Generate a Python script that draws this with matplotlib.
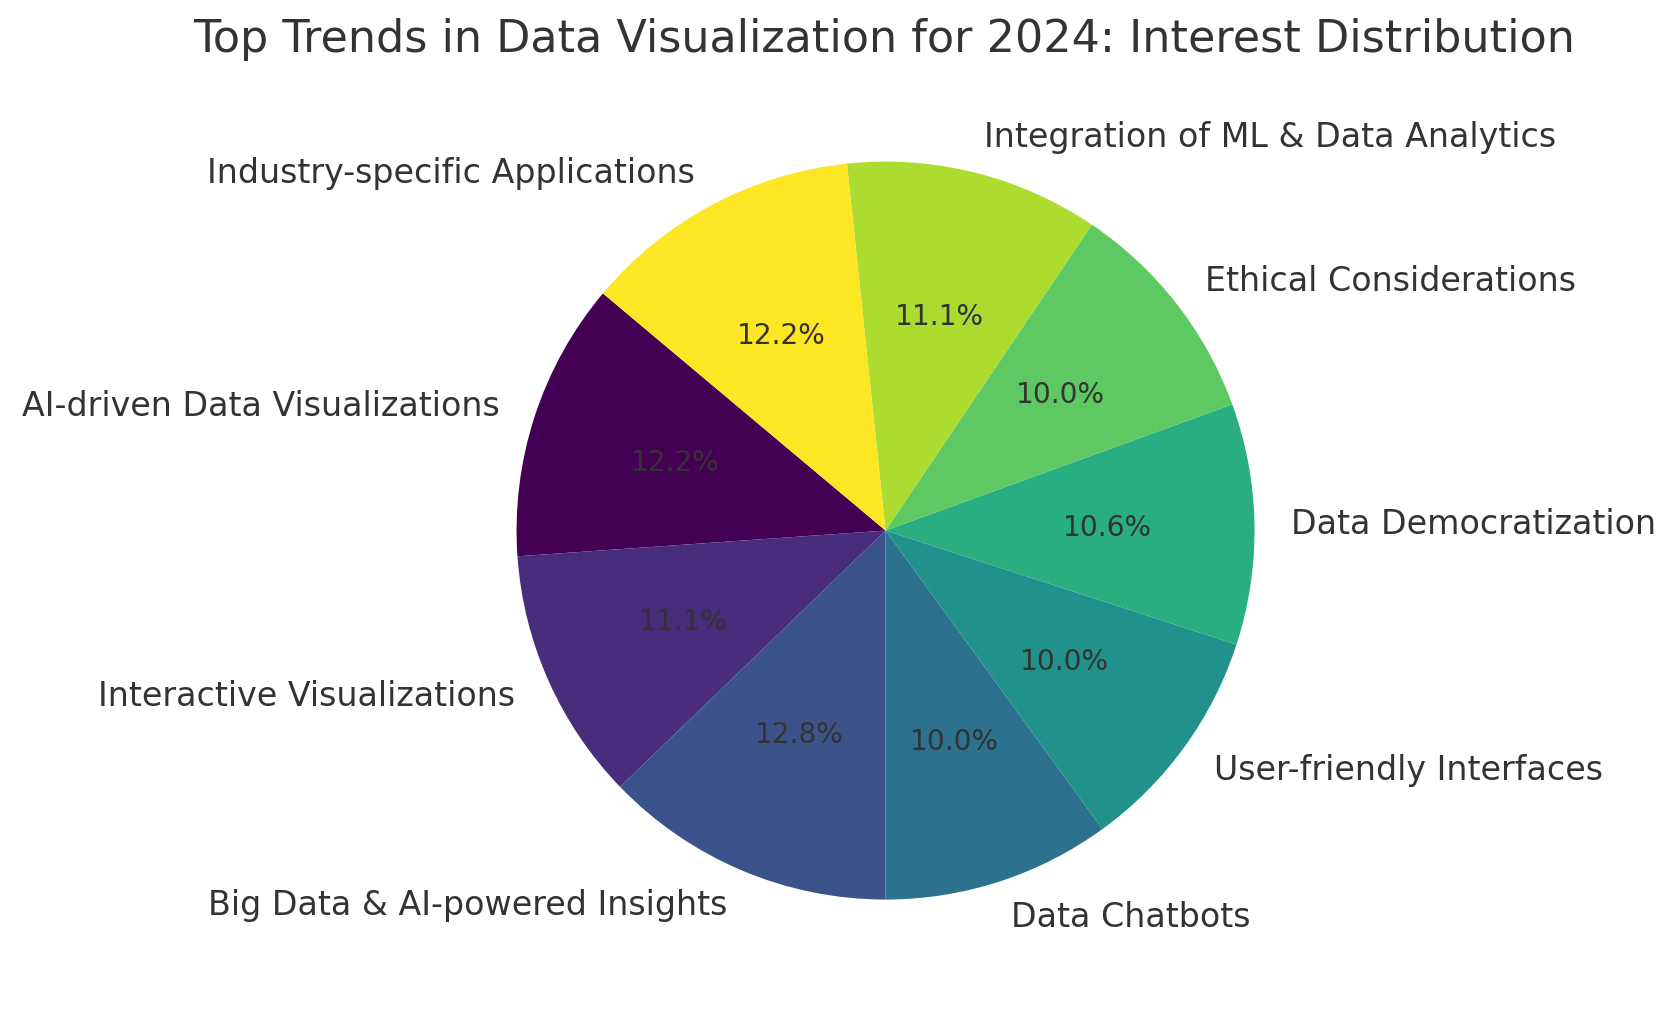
import numpy as np
import matplotlib.pyplot as plt

labels = ['AI-driven Data Visualizations', 'Interactive Visualizations',
          'Big Data & AI-powered Insights', 'Data Chatbots',
          'User-friendly Interfaces', 'Data Democratization',
          'Ethical Considerations', 'Integration of ML & Data Analytics',
          'Industry-specific Applications']
interest = [22, 20, 23, 18, 18, 19, 18, 20, 22]

colors = plt.cm.viridis(np.linspace(0, 1, len(interest)))

fig = plt.figure(figsize=(10, 6.046), dpi=167.7)
# square axes so the pie sits where the reference has it
ax = fig.add_axes([0.2530, 0.0209, 0.5501, 0.9098])
wedges, texts, autotexts = ax.pie(interest, labels=labels, colors=colors,
                                  autopct='%1.1f%%', startangle=140,
                                  textprops={'color': '#333333', 'fontsize': 14.3})
for t in autotexts:
    t.set_fontsize(12)
ax.set_aspect('equal')
fig.text(0.5274, 0.961,
         'Top Trends in Data Visualization for 2024: Interest Distribution',
         fontsize=19.1, color='#333333', ha='center', va='center')
plt.savefig('out.png')
